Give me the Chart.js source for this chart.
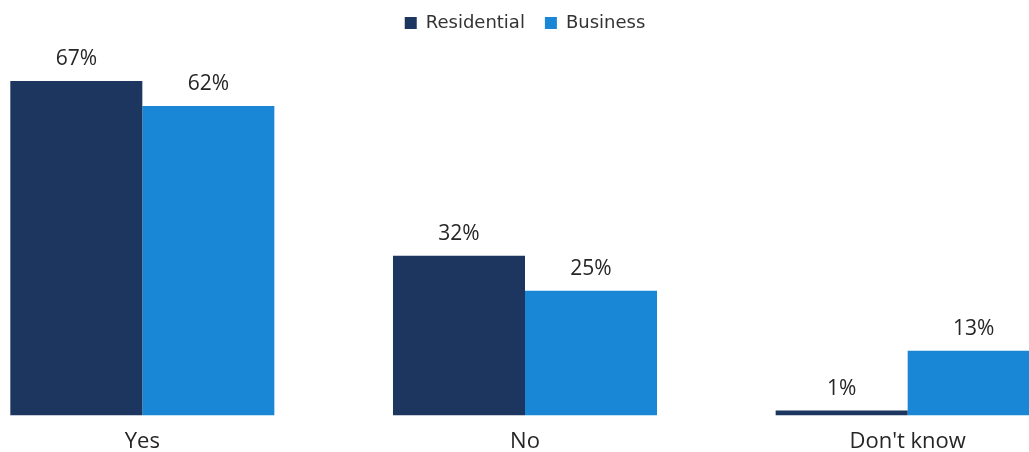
<!DOCTYPE html>
<html lang="en">
<head>
  <meta charset="UTF-8">
  <title>Survey responses</title>
  <style>
    body {
      margin: 0;
      background: #fff;
      overflow: hidden;
      width: 1029px;
      height: 452px;
      position: relative;
    }
    .chart-box {
      position: absolute;
      left: -49px;
      top: 0;
      width: 1148px;
      height: 468px;
    }
  </style>
</head>
<body>
  <div class="chart-box">
    <canvas id="chart"></canvas>
  </div>

  <script src="https://cdn.jsdelivr.net/npm/chart.js"></script>
  <script>
    const categories = ['Yes', 'No', "Don't know"];
    const residential = [67, 32, 1];
    const business = [62, 25, 13];

    const fontFamily = '"Open Sans", "Noto Sans", sans-serif';

    // draws the "67%" style labels above each bar
    const valueLabels = {
      id: 'valueLabels',
      afterDatasetsDraw(chart) {
        const ctx = chart.ctx;
        ctx.save();
        ctx.font = '21px ' + fontFamily;
        ctx.fillStyle = '#262626';
        ctx.textAlign = 'center';
        ctx.textBaseline = 'middle';
        chart.data.datasets.forEach((ds, i) => {
          chart.getDatasetMeta(i).data.forEach((bar, j) => {
            ctx.fillText(ds.data[j] + '%', bar.x, bar.y - 22);
          });
        });
        ctx.restore();
      }
    };

    // leave room under the legend for the tallest labels
    const legendGap = {
      id: 'legendGap',
      beforeInit(chart) {
        const fit = chart.legend.fit;
        chart.legend.fit = function () {
          fit.bind(chart.legend)();
          this.height = 72;
        };
      }
    };

    new Chart(document.getElementById('chart'), {
      type: 'bar',
      data: {
        labels: categories,
        datasets: [
          { label: 'Residential', data: residential, backgroundColor: '#1d365f' },
          { label: 'Business', data: business, backgroundColor: '#1a87d6' }
        ]
      },
      options: {
        responsive: true,
        maintainAspectRatio: false,
        animation: false,
        categoryPercentage: 0.69,
        barPercentage: 1,
        layout: { padding: { top: -6 } },
        plugins: {
          legend: {
            position: 'top',
            labels: {
              boxWidth: 12,
              boxHeight: 12,
              padding: 20,
              color: '#333',
              font: { family: '"DejaVu Sans", sans-serif', size: 18 }
            }
          },
          tooltip: { enabled: false }
        },
        scales: {
          x: {
            grid: { display: false, drawTicks: false },
            border: { display: false },
            ticks: {
              color: '#262626',
              padding: 13,
              font: { family: fontFamily, size: 22 }
            }
          },
          y: {
            display: false,
            min: 0,
            max: 70
          }
        }
      },
      plugins: [valueLabels, legendGap]
    });
  </script>
</body>
</html>
